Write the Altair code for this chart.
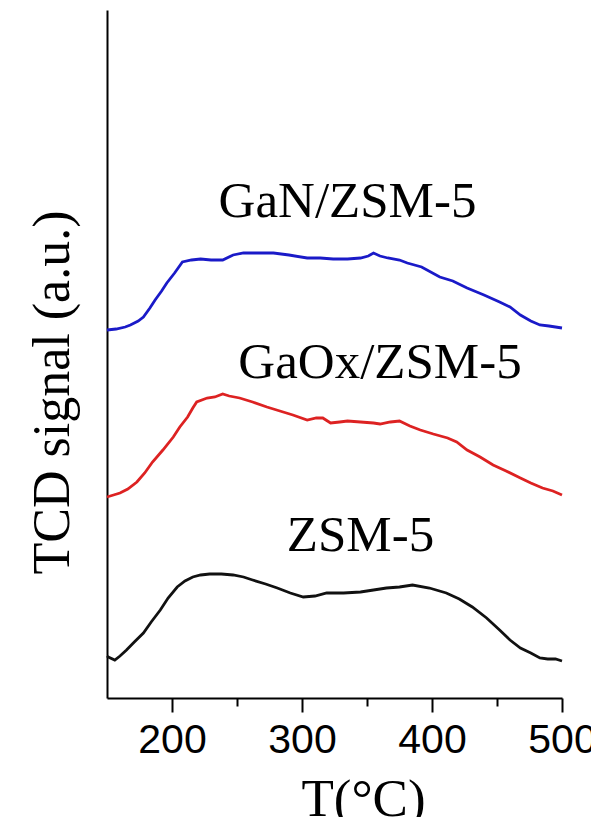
import altair as alt
import pandas as pd

# ---- data (signal in arbitrary units) ----
T_zsm = [150, 151, 156, 160, 165, 171, 178, 184, 191, 197, 204, 210, 216, 222, 229, 238, 247, 255, 262,
         272, 281, 291, 301, 310, 319, 332, 345, 355, 365, 375, 385, 398, 411, 421, 431, 442, 452, 460,
         468, 476, 483, 489, 495, 500]
S_zsm = [42, 41, 38, 42, 48, 56, 65, 76, 88, 100, 111, 117, 121, 123, 124, 124, 123, 121, 118,
         114, 110, 105, 101, 102, 105, 105, 106, 108, 110, 111, 113, 110, 105, 99, 91, 80, 68, 58,
         50, 45, 40, 39, 39, 37]

T_gaox = [150, 155, 160, 166, 173, 179, 185, 193, 201, 206, 212, 216, 219, 227, 233, 239, 244, 252,
          262, 273, 283, 293, 304, 311, 316, 322, 329, 335, 345, 355, 360, 368, 375, 383, 391, 401,
          412, 419, 427, 437, 447, 457, 468, 476, 485, 493, 500]
S_gaox = [201, 203, 205, 209, 216, 225, 236, 248, 261, 271, 281, 290, 296, 300, 301, 304, 302, 300,
          296, 291, 287, 283, 278, 280, 280, 275, 276, 277, 276, 275, 274, 276, 277, 272, 268, 264,
          260, 256, 248, 241, 233, 227, 220, 215, 210, 207, 203]

T_gan = [150, 157, 164, 168, 174, 178, 183, 187, 192, 196, 202, 208, 215, 222, 230, 239, 247, 255,
         265, 278, 290, 304, 314, 324, 335, 345, 351, 355, 360, 366, 375, 381, 392, 406, 416, 427,
         440, 452, 460, 468, 476, 483, 490, 500]
S_gan = [368, 369, 371, 373, 377, 381, 390, 398, 407, 415, 425, 436, 438, 439, 438, 438, 443, 445,
         445, 445, 443, 440, 440, 439, 439, 440, 442, 445, 442, 440, 438, 435, 431, 421, 417, 410,
         403, 396, 391, 383, 377, 373, 372, 370]

samples = ["ZSM-5", "GaOx/ZSM-5", "GaN/ZSM-5"]
colors = ["#111111", "#dd2222", "#1a1ac8"]

label_T = [345, 360, 335]
label_S = [147, 320, 481]

x_ticks = [200, 250, 300, 350, 400, 450, 500]

rows = []
for name, ts, ss in [("ZSM-5", T_zsm, S_zsm), ("GaOx/ZSM-5", T_gaox, S_gaox), ("GaN/ZSM-5", T_gan, S_gan)]:
    for t, s in zip(ts, ss):
        rows.append({"T": t, "signal": s, "sample": name})
df = pd.DataFrame(rows)
labels_df = pd.DataFrame({"T": label_T, "signal": label_S, "text": samples})

x_scale = alt.Scale(domain=[150, 500], nice=False, zero=False)
y_scale = alt.Scale(domain=[0, 688], nice=False, zero=False)

lines = alt.Chart(df).mark_line(strokeWidth=2.8).encode(
    x=alt.X("T:Q", scale=x_scale,
            axis=alt.Axis(values=x_ticks, title="T(°C)", grid=False,
                          domainColor="black", domainWidth=2,
                          tickColor="black", tickWidth=2,
                          tickSize={"condition": {"test": "datum.value % 100 !== 0", "value": 8}, "value": 14},
                          labelExpr="datum.value % 100 === 0 ? datum.label : ''",
                          labelFont="Liberation Sans", labelFontSize=41, labelColor="black",
                          labelBaseline="alphabetic", labelPadding=40, labelFlush=False,
                          titleFont="Liberation Serif", titleFontSize=53, titleFontWeight="normal",
                          titleColor="black", titleBaseline="alphabetic", titleAlign="center",
                          titleX=256, titleY=117)),
    y=alt.Y("signal:Q", scale=y_scale,
            axis=alt.Axis(labels=False, ticks=False, grid=False, title="TCD signal (a.u.)",
                          domainColor="black", domainWidth=2,
                          titleFont="Liberation Serif", titleFontSize=52, titleFontWeight="normal",
                          titleColor="black", titleBaseline="alphabetic", titleAlign="center",
                          titleAngle=270, titleX=-39, titleY=382)),
    color=alt.Color("sample:N", scale=alt.Scale(domain=samples, range=colors), legend=None),
    order=alt.Order("T:Q"),
)

texts = alt.Chart(labels_df).mark_text(font="Liberation Serif", fontSize=51, color="black",
                                       align="center", baseline="alphabetic").encode(
    x=alt.X("T:Q", scale=x_scale),
    y=alt.Y("signal:Q", scale=y_scale),
    text="text:N",
)

chart = alt.layer(lines, texts).properties(
    width=455, height=688,
    autosize=alt.AutoSizeParams(type="none"),
    padding={"left": 99, "top": 2, "right": 29, "bottom": 119},
).configure(background="white").configure_view(stroke=None)

chart.save("out.html", embed_options={"renderer": "svg", "actions": False})
